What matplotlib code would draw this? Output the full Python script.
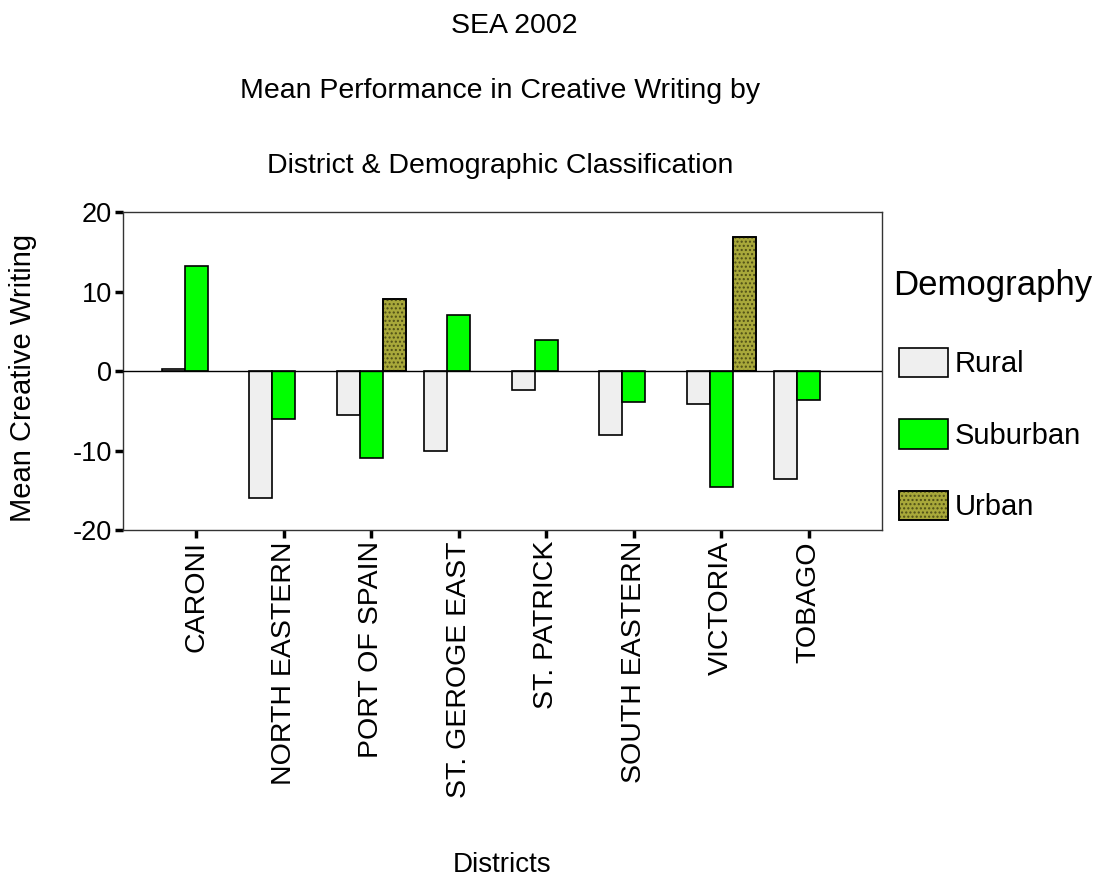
import matplotlib
matplotlib.use("Agg")
import matplotlib.pyplot as plt
import numpy as np
from matplotlib.patches import Patch
from matplotlib.legend_handler import HandlerTuple

plt.rcParams['font.family'] = ['Liberation Sans', 'DejaVu Sans']
plt.rcParams['hatch.linewidth'] = 1.0

districts = ["CARONI", "NORTH EASTERN", "PORT OF SPAIN", "ST. GEROGE EAST",
             "ST. PATRICK", "SOUTH EASTERN", "VICTORIA", "TOBAGO"]
rural = [0.3, -16.0, -5.5, -10.1, -2.4, -8.1, -4.2, -13.6]
suburban = [13.2, -6.1, -11.0, 7.1, 3.9, -3.9, -14.6, -3.6]
urban = [np.nan, np.nan, 9.1, np.nan, np.nan, np.nan, 16.9, np.nan]
yticks = [-20, -10, 0, 10, 20]

W, H = 1106, 880
fig = plt.figure(figsize=(W / 100, H / 100), dpi=100)
ax = fig.add_axes([123 / W, 1 - 530 / H, (882 - 123) / W, (530 - 212) / H])

x = np.arange(len(districts))
w = 0.263
URBAN_FACE = "#a8a83a"
URBAN_DOTS = "#4f4f16"

ax.bar(x - w, rural, w, color="#efefef", edgecolor="black", linewidth=1.2, zorder=2)
ax.bar(x, suburban, w, color="#00ff00", edgecolor="black", linewidth=1.2, zorder=2)
ax.bar(x + w, urban, w, color=URBAN_FACE, edgecolor="black", linewidth=1.2, zorder=2)
ax.bar(x + w, urban, w, color="none", edgecolor=URBAN_DOTS, hatch="....", linewidth=0, zorder=3)
ax.bar(x + w, urban, w, color="none", edgecolor="black", linewidth=1.2, zorder=4)

ax.axhline(0, color="black", linewidth=1.0, zorder=5)

ax.set_xlim(-0.84, len(districts) - 1 + 0.84)
ax.set_ylim(-20, 20)
ax.set_yticks(yticks)
ax.set_yticklabels([str(v) for v in yticks], fontsize=19.5)
ax.set_xticks(x)
ax.set_xticklabels(districts, rotation=90, fontsize=20.5)
ax.tick_params(axis="both", direction="out", length=6, width=2.5, pad=2)
for s in ax.spines.values():
    s.set_linewidth(1.0)
    s.set_color("#333333")

cx = 500 / W
fig.text(514 / W, 1 - 33 / H, "SEA 2002", ha="center", va="baseline", fontsize=20.5)
fig.text(cx, 1 - 98 / H, "Mean Performance in Creative Writing by", ha="center", va="baseline", fontsize=20.5)
fig.text(cx, 1 - 173 / H, "District & Demographic Classification", ha="center", va="baseline", fontsize=20.5)
fig.text(23 / W, 1 - 378 / H, "Mean Creative Writing", rotation=90, ha="center", va="center", fontsize=21)
fig.text(502 / W, 1 - 872 / H, "Districts", ha="center", va="baseline", fontsize=20)

# legend
fig.text(893 / W, 1 - 295 / H, "Demography", ha="left", va="baseline", fontsize=25)
h_rural = Patch(facecolor="#efefef", edgecolor="black", linewidth=1.2)
h_sub = Patch(facecolor="#00ff00", edgecolor="black", linewidth=1.2)
h_urb = (Patch(facecolor=URBAN_FACE, edgecolor="black", linewidth=1.2),
         Patch(facecolor="none", edgecolor=URBAN_DOTS, hatch="....", linewidth=0),
         Patch(facecolor="none", edgecolor="black", linewidth=1.2))
lfs = 21
lpx = lfs * 100 / 72
leg = fig.legend([h_rural, h_sub, h_urb], ["Rural", "Suburban", "Urban"],
                 handler_map={tuple: HandlerTuple(ndivide=1, pad=0)},
                 loc="upper left", bbox_to_anchor=(899 / W, 1 - 348 / H),
                 frameon=False, fontsize=lfs,
                 handlelength=49 / lpx, handleheight=34 / lpx,
                 labelspacing=(75 - 34) / lpx,
                 handletextpad=7 / lpx, borderaxespad=0, borderpad=0)

# shift the legend so the first swatch sits at the intended spot
fig.canvas.draw()
bb = leg.legend_handles[0].get_window_extent()
dx = 899 - bb.x0
dy = (H - 348) - bb.y1
leg.set_bbox_to_anchor(((899 + dx) / W, (H - 348 + dy) / H), transform=fig.transFigure)

fig.savefig("out.png", dpi=100)
